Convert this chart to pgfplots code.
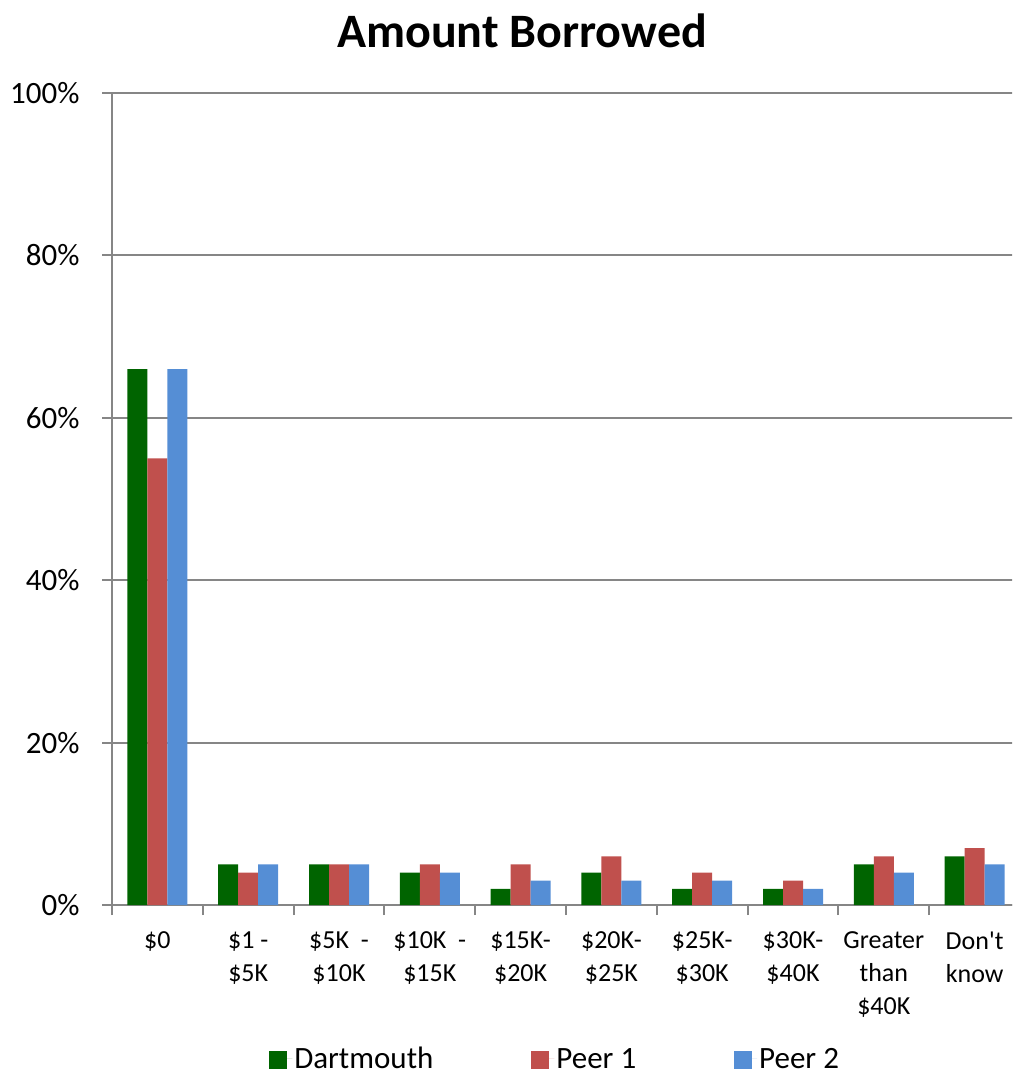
\documentclass[border=0pt]{standalone}
\usepackage{fontspec}
\setmainfont{Carlito}[Ligatures=TeXOff]
\usepackage{pgfplots}
\pgfplotsset{compat=1.18}
\definecolor{cdart}{RGB}{0,100,0}
\definecolor{cpeer1}{RGB}{192,80,77}
\definecolor{cpeer2}{RGB}{85,142,213}
\definecolor{axgray}{RGB}{134,134,134}
\begin{document}
\begin{tikzpicture}
\clip (0pt,0pt) rectangle (1012pt,-1075pt);
\begin{axis}[
  at={(112pt,-905pt)}, anchor=south west,
  scale only axis, width=908pt, height=812pt,
  xmin=-0.5, xmax=9.5, ymin=0, ymax=100,
  ybar=0pt, bar width=20pt,
  axis x line*=bottom, axis y line*=left,
  axis line style={axgray, line width=2pt},
  ymajorgrids, grid style={axgray, line width=2pt},
  ytick={0,20,40,60,80,100},
  yticklabels={0\%,20\%,40\%,60\%,80\%,100\%},
  yticklabel style={font=\fontsize{31}{37}\selectfont, xshift=-19pt},
  xtick={-0.5,0.5,1.5,2.5,3.5,4.5,5.5,6.5,7.5,8.5,9.5},
  xticklabels={},
  tick align=outside, major tick length=10pt,
  tick style={axgray, line width=2pt},
  extra x ticks={0,1,2,3,4,5,6,7,8,9},
  extra x tick labels={\$0, \$1 -\\\$5K, \$5K\ \ -\\\$10K, \$10K\ \ -\\\$15K, \$15K-\\\$20K, \$20K-\\\$25K, \$25K-\\\$30K, \$30K-\\\$40K, Greater\\than\\\$40K, Don't\\know},
  extra x tick style={major tick length=0pt, tick style={draw=none},
    tick label style={font=\fontsize{26}{33}\selectfont, align=center, anchor=north, yshift=-23pt}},
  title={Amount Borrowed},
  title style={font=\fontsize{48}{54}\selectfont\bfseries, at={(0.4515,1)}, anchor=center, yshift=56pt},
  legend columns=3,
  legend style={at={(0.488,-0.1895)}, anchor=center, draw=none, fill=none,
    font=\fontsize{31}{37}\selectfont,
    /tikz/every even column/.append style={column sep=96pt}},
  clip=false,
]
\addplot[fill=cdart, draw=none, legend image code/.code={\fill[cdart] (0pt,-10pt) rectangle (18pt,8pt); \path (0pt,0pt) -- (23pt,0pt);}]
  coordinates {(0,66) (1,5) (2,5) (3,4) (4,2) (5,4) (6,2) (7,2) (8,5) (9,6)};
\addplot[fill=cpeer1, draw=none, legend image code/.code={\fill[cpeer1] (0pt,-10pt) rectangle (18pt,8pt); \path (0pt,0pt) -- (23pt,0pt);}]
  coordinates {(0,55) (1,4) (2,5) (3,5) (4,5) (5,6) (6,4) (7,3) (8,6) (9,7)};
\addplot[fill=cpeer2, draw=none, legend image code/.code={\fill[cpeer2] (0pt,-10pt) rectangle (18pt,8pt); \path (0pt,0pt) -- (23pt,0pt);}]
  coordinates {(0,66) (1,5) (2,5) (3,4) (4,3) (5,3) (6,3) (7,2) (8,4) (9,5)};
\legend{Dartmouth, Peer 1, Peer 2}
\end{axis}
\end{tikzpicture}
\end{document}
